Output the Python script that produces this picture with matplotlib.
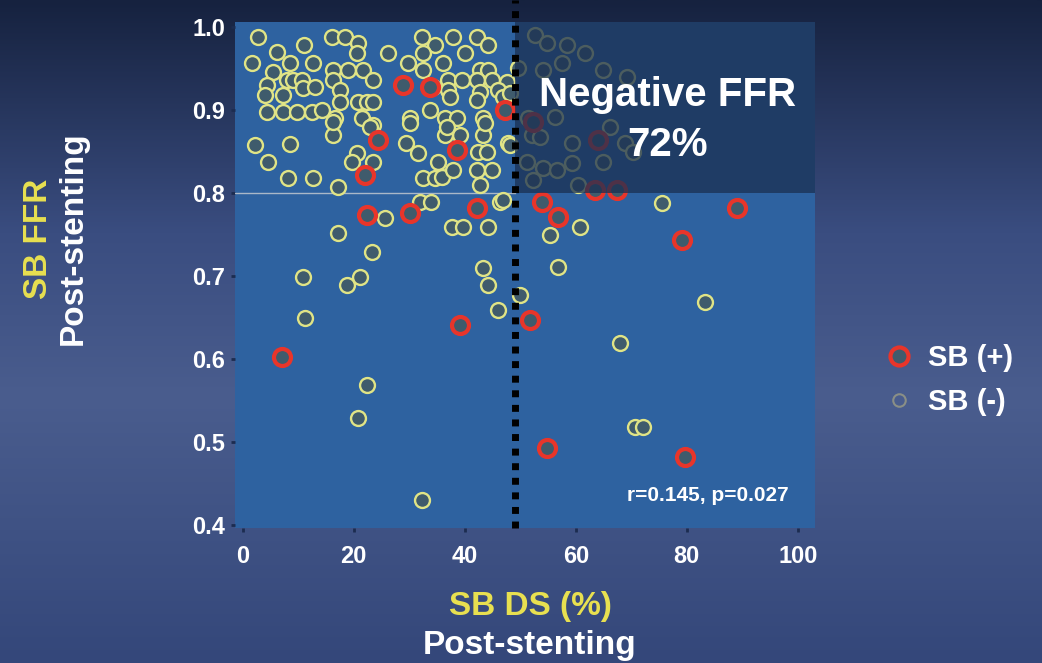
import numpy as np
import matplotlib.pyplot as plt
from matplotlib.colors import LinearSegmentedColormap
from matplotlib.lines import Line2D

plt.rcParams['font.family'] = ['Liberation Sans', 'DejaVu Sans']
plt.rcParams['font.weight'] = 'bold'

# SB (-) : side branch diameter stenosis (%) vs FFR post-stenting
neg_ds = [2.7, 11.0, 16.0, 18.4, 20.7, 1.6, 6.1, 8.5, 12.6, 20.5, 5.4, 7.9, 9.0, 10.6,
          16.2, 18.9, 21.6, 23.4, 16.2, 4.3, 4.0, 7.2, 10.8, 13.0, 17.5, 17.5, 20.7,
          22.3, 23.4, 4.3, 7.2, 9.7, 12.4, 14.2, 16.6, 21.4, 23.4,
          32.3, 34.6, 37.8, 42.2, 44.1, 26.1, 32.4, 29.7, 36.0, 40.0, 32.4, 42.7, 44.1,
          36.9, 39.5, 42.2, 44.9, 47.6, 34.2, 36.9, 37.3, 42.7, 45.9, 46.8, 42.2, 33.7,
          30.1, 36.4, 38.6, 43.2,
          52.6, 54.8, 58.4, 61.6, 57.5, 54.1, 64.9, 69.2, 49.5, 48.1, 56.2, 51.4,
          2.2, 8.5, 4.5, 8.1, 12.6, 17.1, 16.2, 20.5, 19.6, 23.4, 22.9, 16.2, 17.1,
          29.5, 31.5, 35.1, 39.1, 36.4, 43.2, 42.3, 44.0, 47.7, 32.4, 34.6, 35.9, 37.8,
          42.2, 44.9, 42.7, 31.9, 34.0, 25.6, 46.3, 37.7, 39.6, 44.1, 30.1, 36.8, 43.6,
          48.1, 52.1, 53.5, 59.3, 66.1, 68.8, 70.3, 51.2, 54.1, 56.6, 59.3, 64.9, 52.3,
          60.4, 46.8, 60.7, 55.3, 75.5, 56.8,
          23.2, 10.8, 18.7, 21.1, 11.2, 22.3, 20.7, 32.3, 43.2, 44.1, 45.9, 49.9,
          83.2, 67.9, 70.6, 72.1]
neg_ffr = [0.988, 0.978, 0.988, 0.988, 0.981, 0.957, 0.970, 0.957, 0.957, 0.969, 0.946,
           0.936, 0.936, 0.936, 0.948, 0.948, 0.948, 0.936, 0.936, 0.930, 0.918, 0.918,
           0.927, 0.928, 0.924, 0.910, 0.910, 0.910, 0.910, 0.898, 0.898, 0.898, 0.898,
           0.900, 0.890, 0.890, 0.882,
           0.988, 0.978, 0.988, 0.988, 0.978, 0.969, 0.969, 0.957, 0.957, 0.969, 0.948,
           0.948, 0.948, 0.936, 0.936, 0.936, 0.936, 0.934, 0.928, 0.924, 0.916, 0.922,
           0.924, 0.916, 0.912, 0.900, 0.890, 0.890, 0.890, 0.890,
           0.990, 0.981, 0.978, 0.969, 0.957, 0.948, 0.948, 0.940, 0.951, 0.920, 0.892,
           0.890,
           0.858, 0.859, 0.837, 0.818, 0.818, 0.807, 0.870, 0.848, 0.837, 0.837, 0.880,
           0.886, 0.752,
           0.860, 0.848, 0.837, 0.870, 0.870, 0.870, 0.849, 0.849, 0.860, 0.818, 0.818,
           0.819, 0.828, 0.828, 0.828, 0.810, 0.789, 0.789, 0.770, 0.789, 0.759, 0.759,
           0.759, 0.884, 0.880, 0.884,
           0.858, 0.870, 0.867, 0.860, 0.880, 0.860, 0.849, 0.837, 0.830, 0.828, 0.836,
           0.837, 0.816, 0.810, 0.792, 0.759, 0.749, 0.788, 0.711,
           0.729, 0.699, 0.689, 0.699, 0.649, 0.569, 0.529, 0.430, 0.710, 0.689, 0.659,
           0.677, 0.669, 0.619, 0.518, 0.518]

# SB (+)
pos_ds = [28.8, 33.7, 47.2, 24.3, 38.6, 22.0, 64.0, 52.3, 22.3, 30.1, 42.2, 53.9, 56.8,
          63.4, 67.4, 89.0, 79.1, 39.1, 7.0, 51.7, 54.8, 79.6]
pos_ffr = [0.930, 0.928, 0.900, 0.864, 0.852, 0.822, 0.864, 0.886, 0.774, 0.776, 0.782,
           0.789, 0.771, 0.804, 0.804, 0.782, 0.743, 0.641, 0.602, 0.647, 0.493, 0.482]

ds_cut = 49
ffr_cut = 0.8
xticks = [0, 20, 40, 60, 80, 100]
yticks = [0.4, 0.5, 0.6, 0.7, 0.8, 0.9, 1.0]

fig = plt.figure(figsize=(10.42, 6.63), dpi=100)

# slide background gradient
bg = fig.add_axes([0, 0, 1, 1], zorder=-10)
cmap = LinearSegmentedColormap.from_list('bg', [(0, '#16223f'), (0.35, '#3a4d80'),
                                                (0.6, '#4a5d8e'), (1, '#34477a')])
bg.imshow(np.linspace(0, 1, 256)[:, None], aspect='auto', cmap=cmap,
          extent=[0, 1, 0, 1], origin='upper')
bg.axis('off')

ymin, ymax = 0.3964, 1.006
ax = fig.add_axes([0.2255, 0.2036, 0.5567, 0.7632])
ax.set_facecolor('#2e62a0')
ax.set_xlim(-1.4, 103.1)
ax.set_ylim(ymin, ymax)

ax.scatter(neg_ds, neg_ffr, s=115, facecolors='#3f5b6c', edgecolors='#e0e486',
           linewidths=1.7, zorder=3)
ax.scatter(pos_ds, pos_ffr, s=150, facecolors='#3f5b6c', edgecolors='#e8352a',
           linewidths=3, zorder=4)

# negative FFR quadrant
ax.fill_between([ds_cut, 103.1], ffr_cut, ymax, color='#1a3052', alpha=0.75,
                zorder=5, lw=0)
ax.axhline(ffr_cut, xmax=(ds_cut + 1.4) / 104.5, color='#aab8c8', lw=1, zorder=2)
ax.plot([ds_cut, ds_cut], [ymin, 1.032], color='black', lw=5,
        linestyle=(0, (1, 1.1)), zorder=6, clip_on=False)

ax.text(76.6, 0.918, 'Negative FFR', color='white', fontsize=29, ha='center',
        va='center', zorder=7)
ax.text(76.6, 0.858, '72%', color='white', fontsize=29, ha='center', va='center',
        zorder=7)
ax.text(83.8, 0.436, 'r=0.145, p=0.027', color='white', fontsize=15, ha='center',
        va='center', zorder=7)

ax.set_xticks(xticks)
ax.set_yticks(yticks)
ax.set_xticklabels([str(t) for t in xticks])
ax.set_yticklabels(['%.1f' % t for t in yticks])
ax.tick_params(colors='#1c2c50', length=3, width=2, labelsize=17, labelcolor='white')
ax.tick_params(axis='x', pad=9)
ax.tick_params(axis='y', pad=4)
for s in ax.spines.values():
    s.set_visible(False)

fig.text(0.5086, 0.0845, 'SB DS (%)', color='#e8e050', fontsize=24, ha='center',
         va='center')
fig.text(0.5086, 0.0271, 'Post-stenting', color='white', fontsize=24, ha='center',
         va='center')
fig.text(0.037, 0.64, 'SB FFR', color='#e8e050', fontsize=24, ha='center',
         va='center', rotation=90)
fig.text(0.070, 0.64, 'Post-stenting', color='white', fontsize=24, ha='center',
         va='center', rotation=90)

handles = [Line2D([], [], marker='o', ls='none', ms=13, mfc='#3f5b6c', mec='#e8352a',
                  mew=3),
           Line2D([], [], marker='o', ls='none', ms=9, mfc='none', mec='#8a8f86',
                  mew=1.5)]
fig.legend(handles, ['SB (+)', 'SB (-)'], loc='center left',
           bbox_to_anchor=(0.849, 0.427), frameon=False, labelcolor='white',
           fontsize=21, handlelength=1.0, handletextpad=0.5, labelspacing=0.55,
           borderpad=0, borderaxespad=0)

fig.savefig('out.png', dpi=100)
